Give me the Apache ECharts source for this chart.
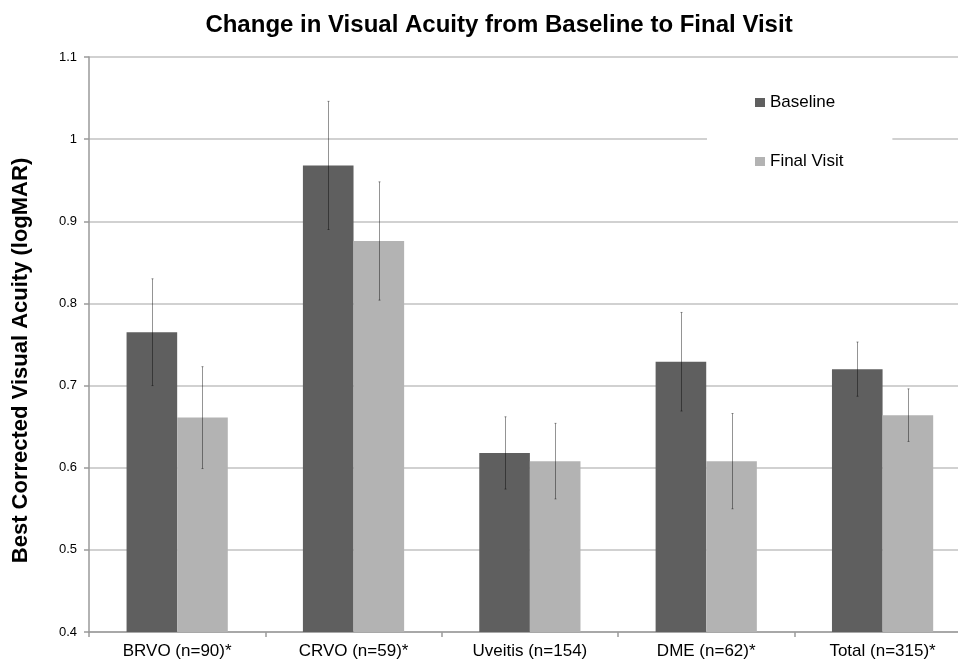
<!DOCTYPE html>
<html>
<head>
<meta charset="utf-8">
<script src="https://cdn.jsdelivr.net/npm/echarts@6/dist/echarts.min.js"></script>
<style>
  html, body { margin: 0; padding: 0; background: #fff; overflow: hidden; }
  /* plot area runs slightly past the right edge of the window */
  #chart { width: 980px; height: 664px; }
</style>
</head>
<body>
<div id="chart"></div>
<script>
// Mean best corrected visual acuity (logMAR) per diagnosis group
const categories = ['BRVO (n=90)*', 'CRVO (n=59)*', 'Uveitis (n=154)', 'DME (n=62)*', 'Total (n=315)*'];
const baseline = [0.765, 0.968, 0.618, 0.729, 0.720];
const finalVisit = [0.661, 0.876, 0.608, 0.608, 0.664];
// Half-width of the error bars
const baselineErr = [0.065, 0.078, 0.044, 0.060, 0.033];
const finalErr = [0.062, 0.072, 0.046, 0.058, 0.032];
const yTicks = { min: 0.4, max: 1.1, step: 0.1 };

const BAR_FRAC = 0.287;
const FONT = '"Liberation Sans", Arial, sans-serif';

function errorSeries(name, means, errs, side) {
  return {
    type: 'custom',
    name: name + ' error',
    z: 5,
    silent: true,
    data: means.map((m, i) => [i, m, errs[i]]),
    renderItem: function (params, api) {
      const i = api.value(0);
      const m = api.value(1);
      const e = api.value(2);
      const band = api.size([1, 0])[0];
      const cx = api.coord([i, m])[0] + side * band * BAR_FRAC / 2;
      const yTop = api.coord([i, m + e])[1];
      const yBot = api.coord([i, m - e])[1];
      const x = Math.round(cx) + 0.5;
      const st = { stroke: 'rgba(0,0,0,0.42)', lineWidth: 1 };
      return {
        type: 'group',
        children: [
          { type: 'line', shape: { x1: x, y1: yTop, x2: x, y2: yBot }, style: st },
          { type: 'line', shape: { x1: x - 1, y1: yTop, x2: x + 1, y2: yTop }, style: st },
          { type: 'line', shape: { x1: x - 1, y1: yBot, x2: x + 1, y2: yBot }, style: st }
        ]
      };
    }
  };
}

const chart = echarts.init(document.getElementById('chart'), null, { renderer: 'canvas' });
chart.setOption({
  animation: false,
  backgroundColor: '#ffffff',
  title: {
    text: 'Change in Visual Acuity from Baseline to Final Visit',
    left: 499,
    textAlign: 'center',
    top: 13,
    padding: 0,
    textStyle: { fontFamily: FONT, fontSize: 24, fontWeight: 'bold', color: '#000' }
  },
  legend: {
    orient: 'vertical',
    left: 707,
    top: 64,
    padding: [30, 49, 30, 48],
    backgroundColor: '#ffffff',
    itemWidth: 10,
    itemHeight: 9,
    itemGap: 42,
    icon: 'rect',
    data: ['Baseline', 'Final Visit'],
    textStyle: { fontFamily: FONT, fontSize: 17, color: '#000' }
  },
  grid: { left: 89, top: 57, width: 881.75, height: 575, containLabel: false },
  xAxis: {
    type: 'category',
    data: categories,
    axisLine: { lineStyle: { color: '#9a9a9a', width: 1.5 } },
    axisTick: { show: true, length: 5, lineStyle: { color: '#9a9a9a', width: 1.5 } },
    axisLabel: { fontFamily: FONT, fontSize: 17, color: '#000', margin: 11 }
  },
  yAxis: {
    type: 'value',
    min: yTicks.min,
    max: yTicks.max,
    interval: yTicks.step,
    name: 'Best Corrected Visual Acuity (logMAR)',
    nameLocation: 'middle',
    nameGap: 57,
    nameTextStyle: {
      fontFamily: FONT, fontSize: 22, fontWeight: 'bold', color: '#000',
      padding: [0, 32, 0, 0]
    },
    axisLine: { show: true, lineStyle: { color: '#9a9a9a', width: 1.5 } },
    axisTick: { show: true, length: 5, lineStyle: { color: '#9a9a9a', width: 1.5 } },
    axisLabel: {
      fontFamily: FONT, fontSize: 13, color: '#000', margin: 12,
      formatter: v => String(Math.round(v * 10) / 10)
    },
    splitLine: { show: true, lineStyle: { color: '#c2c2c2', width: 1.5 } }
  },
  series: [
    {
      name: 'Baseline', type: 'bar', data: baseline, barWidth: (BAR_FRAC * 100) + '%', barGap: '0%',
      itemStyle: { color: '#5f5f5f' }, z: 2
    },
    {
      name: 'Final Visit', type: 'bar', data: finalVisit, barWidth: (BAR_FRAC * 100) + '%', barGap: '0%',
      itemStyle: { color: '#b3b3b3' }, z: 2
    },
    errorSeries('Baseline', baseline, baselineErr, -1),
    errorSeries('Final Visit', finalVisit, finalErr, 1)
  ]
});
</script>
</body>
</html>
